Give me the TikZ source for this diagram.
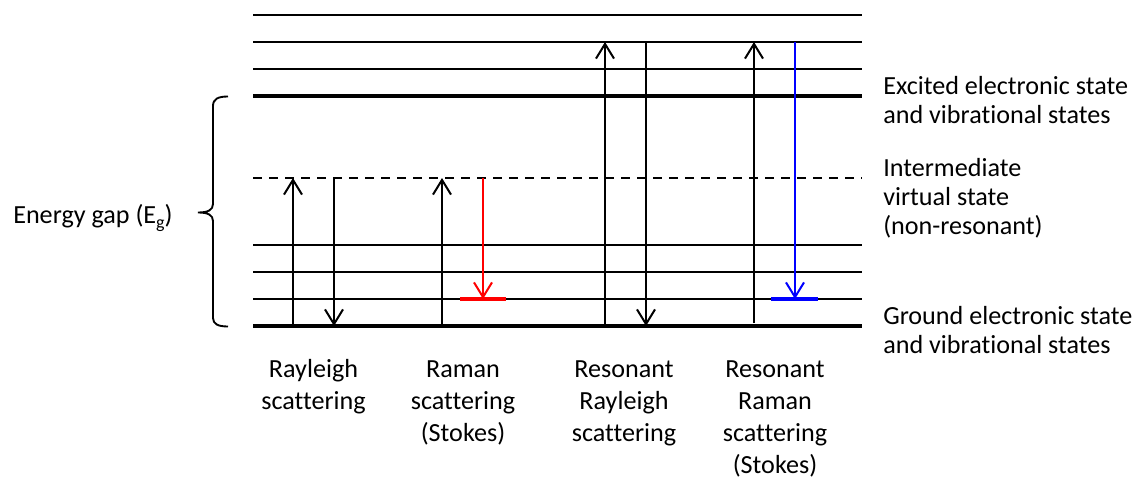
\documentclass[tikz,border=0pt]{standalone}
\usepackage{fontspec}
\setmainfont{Carlito}[RawFeature={-liga;-clig;-calt;-rlig;-dlig}]
\usetikzlibrary{arrows.meta}
\begin{document}
\begin{tikzpicture}[x=0.75pt,y=-0.75pt,
  level/.style={line width=1.1pt},
  mainlevel/.style={line width=3pt},
  virtlevel/.style={line width=1.3pt, dash pattern=on 7pt off 5pt},
  trans/.style={line width=1.5pt,
    -{Straight Barb[length=11pt,width=13.5pt,line width=1.5pt]}},
  endbar/.style={line width=3.5pt},
  sidelabel/.style={anchor=base west, inner sep=0pt, align=left,
    font=\fontsize{19.6}{21.4}\selectfont},
  caption/.style={anchor=base, inner sep=0pt, align=center,
    font=\fontsize{19.6}{24}\selectfont}
]
\useasboundingbox (0,0) rectangle (1139,478);

% energy levels: left and right ends
\foreach \name/\y in {e3/15, e2/42, e1/69, e0/96, v/178, g3/245, g2/272, g1/299, g0/326} {
  \coordinate (\name L) at (253,\y);
  \coordinate (\name R) at (862,\y);
}
% excited electronic manifold
\draw[level] (e3L) -- (e3R);
\draw[level] (e2L) -- (e2R);
\draw[level] (e1L) -- (e1R);
\draw[mainlevel] (e0L) -- (e0R);
% virtual state
\draw[virtlevel] (vL) -- (vR);
% ground electronic manifold
\draw[level] (g3L) -- (g3R);
\draw[level] (g2L) -- (g2R);
\draw[level] (g1L) -- (g1R);
\draw[mainlevel] (g0L) -- (g0R);

% columns of the transitions
\coordinate (c1) at (293,0);
\coordinate (c2) at (334,0);
\coordinate (c3) at (442,0);
\coordinate (c4) at (483,0);
\coordinate (c5) at (605,0);
\coordinate (c6) at (646,0);
\coordinate (c7) at (754,0);
\coordinate (c8) at (795,0);

% Rayleigh scattering
\draw[trans] (c1 |- g0L) -- (c1 |- vL);
\draw[trans] (c2 |- vL) -- (c2 |- g0L);
% Raman scattering (Stokes)
\draw[trans] (c3 |- g0L) -- (c3 |- vL);
\draw[trans, red] (c4 |- vL) -- (c4 |- g1L);
\coordinate (rb1) at (460,299);
\coordinate (rb2) at (506,299);
\draw[endbar, red] (rb1) -- (rb2);
% resonant Rayleigh scattering
\draw[trans] (c5 |- g0L) -- (c5 |- e2L);
\draw[trans] (c6 |- e2L) -- (c6 |- g0L);
% resonant Raman scattering (Stokes)
\coordinate (rr0) at (754,323);
\draw[trans] (rr0) -- (c7 |- e2L);
\draw[trans, blue] (c8 |- e2L) -- (c8 |- g1L);
\coordinate (bb1) at (771,299);
\coordinate (bb2) at (818,299);
\draw[endbar, blue] (bb1) -- (bb2);

% brace spanning the energy gap
\draw[line width=1.4pt]
  (228,96.5) .. controls (218,96.5) and (213,99) .. (213,106)
  -- (213,204) .. controls (213,210) and (208,212.5) .. (198,212.5)
  .. controls (208,212.5) and (213,215) .. (213,221)
  -- (213,318) .. controls (213,324) and (218,326.5) .. (228,326.5);

\node[sidelabel] (gap) at (13,223)
  {Energy gap (E\raisebox{-0.22em}{\fontsize{13.5}{14}\selectfont g})};

% state labels (anchored at the baseline of their last line)
\node[sidelabel] (exc) at (883,123) {Excited electronic state\\and vibrational states};
\node[sidelabel] (virt) at (883,234) {Intermediate\\virtual state\\(non-resonant)};
\node[sidelabel] (gnd) at (883,353) {Ground electronic state\\and vibrational states};

% process labels (anchored at the baseline of their last line)
\node[caption] (p1) at (313.5,409) {Rayleigh\\scattering};
\node[caption] (p2) at (463,441) {Raman\\scattering\\(Stokes)};
\node[caption] (p3) at (624,441) {Resonant\\Rayleigh\\scattering};
\node[caption] (p4) at (775,473) {Resonant\\Raman\\scattering\\(Stokes)};
\end{tikzpicture}
\end{document}
